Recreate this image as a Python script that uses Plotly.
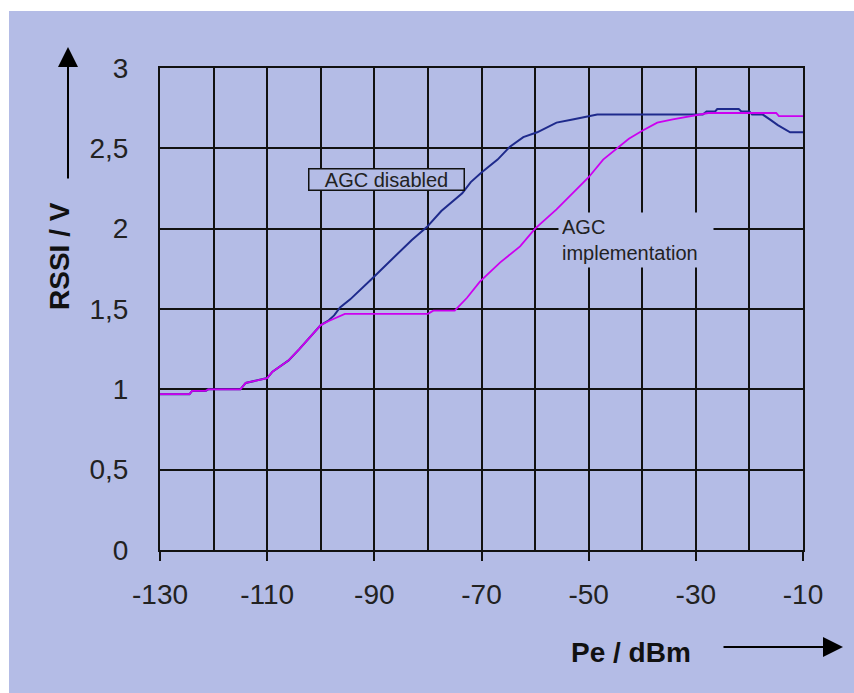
import plotly.graph_objects as go

# Received power (dBm) and RSSI output (V) for the two receiver settings
pe_disabled = [-130, -124.5, -124, -121.5, -121, -115, -114, -111, -110, -109,
               -106, -104, -101.5, -100, -98.5, -97.5, -96.4, -94.5, -90.4, -86.5,
               -83, -80.2, -77.5, -73.6, -72, -70, -67, -64.7, -62.2, -59.6,
               -56, -53, -50, -48.4, -28.7, -28, -26.4, -26, -22, -21.5,
               -20, -19.5, -17.5, -17, -16.2, -14.7, -12.4, -10]
rssi_disabled = [0.97, 0.97, 0.99, 0.99, 1.0, 1.0, 1.04, 1.06, 1.07, 1.11,
                 1.18, 1.25, 1.34, 1.40, 1.43, 1.46, 1.51, 1.56, 1.69, 1.82,
                 1.93, 2.01, 2.11, 2.22, 2.29, 2.35, 2.43, 2.51, 2.57, 2.60,
                 2.66, 2.68, 2.70, 2.71, 2.71, 2.73, 2.73, 2.745, 2.745, 2.73,
                 2.73, 2.71, 2.71, 2.70, 2.68, 2.645, 2.60, 2.60]

pe_agc = [-130, -124.5, -124, -121.5, -121, -115, -114, -111, -110, -109,
          -106, -104, -101.5, -100, -98.5, -97, -95.5, -80, -79, -75,
          -72.7, -70.3, -66.5, -62.8, -60, -56, -50, -47.3, -44.7, -42.5,
          -40, -37.2, -34.3, -30.7, -27.7, -15, -14.5, -10]
rssi_agc = [0.97, 0.97, 0.99, 0.99, 1.0, 1.0, 1.04, 1.06, 1.07, 1.11,
            1.18, 1.25, 1.34, 1.40, 1.425, 1.45, 1.47, 1.47, 1.49, 1.49,
            1.57, 1.67, 1.79, 1.89, 2.0, 2.12, 2.32, 2.43, 2.50, 2.56,
            2.61, 2.66, 2.68, 2.70, 2.72, 2.72, 2.70, 2.70]

x_tick_vals = [-130, -110, -90, -70, -50, -30, -10]
x_tick_text = ["-130", "-110", "-90", "-70", "-50", "-30", "-10"]
y_tick_vals = [0, 0.5, 1, 1.5, 2, 2.5, 3]
y_tick_text = ["0", "0,5", "1", "1,5", "2", "2,5", "3"]

BG = "#B4BCE6"
W, H = 854, 693
L, R, T, B = 160, 803, 68, 550  # plot area in pixels


def px(x):
    return (x - L) / (R - L)


def py(y):
    return (B - y) / (B - T)


fig = go.Figure()
fig.add_trace(go.Scatter(x=pe_disabled, y=rssi_disabled, mode="lines",
                         line=dict(color="#1E2A8C", width=2), name="AGC disabled"))
fig.add_trace(go.Scatter(x=pe_agc, y=rssi_agc, mode="lines",
                         line=dict(color="#CC00F0", width=1.8), name="AGC implementation"))

tick_font = dict(family="Liberation Sans, Arial, sans-serif", size=28, color="#222222")
title_font = dict(family="Liberation Sans, Arial, sans-serif", size=28, color="#111111")
label_font = dict(family="Liberation Sans, Arial, sans-serif", size=20, color="#222222")

fig.update_layout(
    width=W, height=H,
    margin=dict(l=L, r=W - R, t=T, b=H - B),
    paper_bgcolor="white",
    plot_bgcolor="rgba(0,0,0,0)",
    showlegend=False,
    xaxis=dict(
        range=[-130, -10], tickvals=x_tick_vals, ticktext=x_tick_text,
        ticks="outside", ticklen=9, tickwidth=2, tickcolor="#111111",
        showgrid=True, gridcolor="#111111", gridwidth=2,
        minor=dict(dtick=10, tick0=-130, showgrid=True, gridcolor="#111111",
                   gridwidth=2, ticks=""),
        showline=True, linecolor="#111111", linewidth=2, mirror=True,
        zeroline=False, tickfont=tick_font, ticklabelstandoff=9,
    ),
    yaxis=dict(
        range=[0, 3], tickvals=y_tick_vals, ticktext=y_tick_text,
        ticks="", showgrid=True, gridcolor="#111111", gridwidth=2,
        showline=True, linecolor="#111111", linewidth=2, mirror=True,
        zeroline=False, tickfont=tick_font, ticklabelstandoff=24,
    ),
    shapes=[
        dict(type="rect", xref="paper", yref="paper", layer="below",
             x0=px(9), x1=px(W + 5), y0=py(H + 5), y1=py(11),
             fillcolor=BG, line=dict(width=0)),
    ],
    annotations=[
        # axis titles
        dict(text="<b>RSSI / V</b>", xref="paper", yref="paper",
             x=px(60), y=py(256), textangle=-90, showarrow=False,
             font=title_font, xanchor="center", yanchor="middle"),
        dict(text="<b>Pe / dBm</b>", xref="paper", yref="paper",
             x=px(631), y=py(652), showarrow=False,
             font=title_font, xanchor="center", yanchor="middle"),
        # axis arrows
        dict(text="", xref="paper", yref="paper", x=px(68), y=py(47),
             ax=0, ay=133, axref="pixel", ayref="pixel", showarrow=True,
             arrowhead=2, arrowsize=2, arrowwidth=2, arrowcolor="#000000"),
        dict(text="", xref="paper", yref="paper", x=px(843), y=py(647),
             ax=-121, ay=0, axref="pixel", ayref="pixel", showarrow=True,
             arrowhead=2, arrowsize=2, arrowwidth=2, arrowcolor="#000000"),
        # curve labels
        dict(text="AGC disabled", xref="x", yref="y", x=-87.8, y=2.309,
             showarrow=False, font=label_font, bgcolor=BG,
             bordercolor="#111111", borderwidth=1.5, borderpad=0,
             width=154, height=20),
        dict(text="AGC<br>implementation", xref="x", yref="y", x=-41.2, y=1.93,
             showarrow=False, font=label_font, bgcolor=BG, align="left",
             width=148, height=48, borderpad=3,
             xanchor="center", yanchor="middle"),
    ],
)

fig.write_html("out.html")
